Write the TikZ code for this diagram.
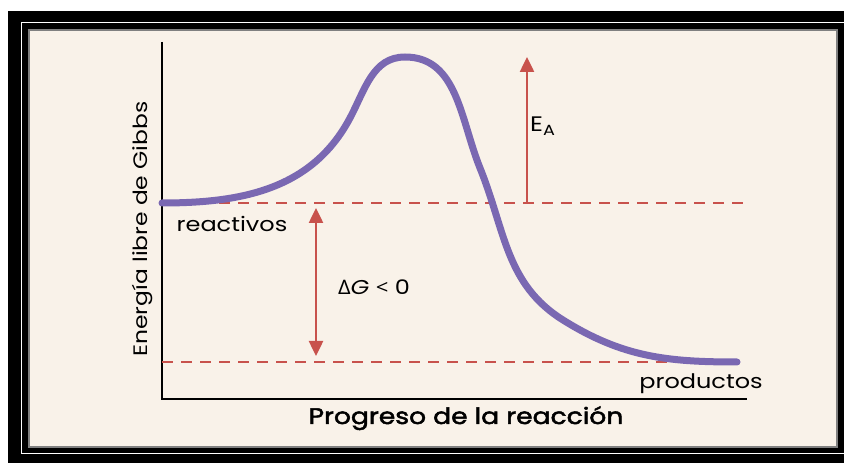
\documentclass[tikz,border=0pt]{standalone}
\usepackage{fontspec}
\setmainfont{Poppins}[FakeStretch=1.2]
\newfontfamily\deltafont{Open Sans}[FakeStretch=1.1]
\newfontfamily\axisfont{Poppins}[FakeStretch=1.18, FakeBold=2.2]
\usetikzlibrary{arrows.meta}
\definecolor{cream}{RGB}{249,242,233}
\definecolor{curvepurple}{RGB}{122,104,178}
\definecolor{dashred}{RGB}{200,82,76}
\begin{document}
\begin{tikzpicture}[x=1pt,y=1pt,
  level/.style={dashred, line width=2.5pt, dash pattern=on 11pt off 8pt},
  gap/.style={dashred, line width=2.5pt},
  lbl/.style={font=\fontsize{20}{24}\selectfont, inner sep=0pt, anchor=base}]
  \useasboundingbox (0,0) rectangle (844,463);
  \clip (0,0) rectangle (844,463);
  % frame
  \fill[black] (8,0) rectangle (844,452);
  \draw[white, line width=1.5pt] (21.5,9.5) rectangle (870,440.5);
  \fill[cream] (28,15) rectangle (838,434);
  \draw[black!50, line width=2pt] (29,16) rectangle (837,433);
  % axes
  \coordinate (top) at (162,421);
  \coordinate (o) at (162,64);
  \coordinate (end) at (747,64);
  \draw[line width=2pt] (top) -- (o) -- (end);
  % levels
  \coordinate (r0) at (162,260);
  \coordinate (r1) at (750,260);
  \coordinate (p0) at (162,101);
  \coordinate (p1) at (740,101);
  \draw[level] (r0) -- (r1);
  \draw[level] (p0) -- (p1);
  % energy curve
  \draw[curvepurple, line width=7pt, line cap=round]
    (162,260) to[out=0,in=242] (350,345) to[out=62,in=180] (405,406)
    to[out=0,in=112] (480,295) to[out=-68,in=148] (563,143)
    to[out=-32,in=180] (737,101);
  % arrows
  \coordinate (g0) at (316,255);
  \coordinate (g1) at (316,107);
  \draw[gap, {Triangle[length=15pt,width=14pt]}-{Triangle[length=15pt,width=14pt]}] (g0) -- (g1);
  \coordinate (ea0) at (527,260);
  \coordinate (ea1) at (527,406);
  \draw[gap, -{Triangle[length=15pt,width=14pt]}] (ea0) -- (ea1);
  % labels
  \node[lbl] (reac) at (232,231) {reactivos};
  \node[lbl] (prod) at (701,74) {productos};
  \node[lbl] (dg) at (374,168) {{\deltafont Δ}\textit{G} {\deltafont <} 0};
  \node[lbl, anchor=base west, font=\fontsize{21}{24}\selectfont] (ea) at (530,331) {E\textsubscript{A}};
  \node[lbl, font=\fontsize{22.5}{26}\selectfont\axisfont] (xlab) at (466,39) {Progreso de la reacción};
  \node[lbl, rotate=90, font=\fontsize{19.5}{24}\selectfont] (ylab) at (147,234) {Energía libre de Gibbs};
\end{tikzpicture}
\end{document}
